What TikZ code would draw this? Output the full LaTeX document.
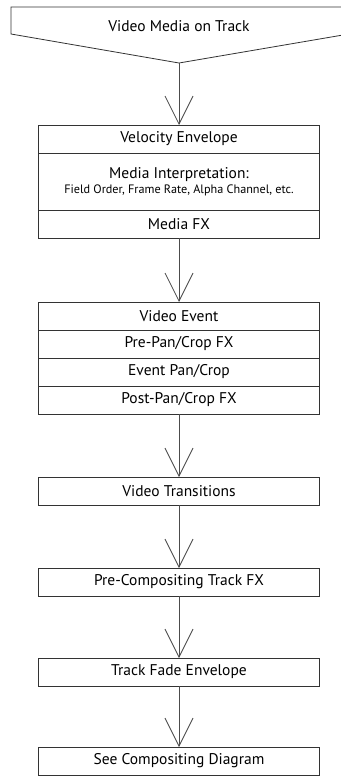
\documentclass[tikz,border=0pt]{standalone}
\usepackage{fontspec}
\setmainfont{PT Sans}
\usepackage{tikz}
\usetikzlibrary{arrows.meta, positioning}

\newcommand{\rowsize}{\fontsize{15.5}{16}\selectfont}
\newcommand{\notesize}{\fontsize{12.2}{13}\selectfont}

\begin{document}
\begin{tikzpicture}[
  x=1pt, y=-1pt,
  node distance=63pt,
  every node/.style={font=\rowsize},
  row/.style={rectangle, draw=black!80, line width=0.8pt, outer sep=0pt,
              minimum width=281pt, minimum height=28pt, inner sep=0pt, align=center},
  tall/.style={minimum height=57pt},
  arr/.style={-{Straight Barb[length=28pt, width=28pt, line width=0.8pt]},
              draw=black!70, line width=0.8pt},
]
  \useasboundingbox (0,0) rectangle (340,779);

  % source shape
  \draw[draw=black!80, line width=0.8pt] (11,7) -- (343,7) -- (343,35) -- (179,63) -- (11,34) -- cycle;
  \node (track) at (179,26) {Video Media on Track};
  \coordinate (tracktip) at (179,63);

  % media block
  \node[row, below=62pt of tracktip] (velocity) {Velocity Envelope};
  \node[row, tall, below=0pt of velocity] (interp)
        {Media Interpretation:\\[-1pt]{\notesize Field Order, Frame Rate, Alpha Channel, etc.}};
  \node[row, below=0pt of interp] (mediafx) {Media FX};

  % event block
  \node[row, below=64pt of mediafx] (event) {Video Event};
  \node[row, below=0pt of event]    (prepan)  {Pre-Pan/Crop FX};
  \node[row, below=0pt of prepan]   (pancrop) {Event Pan/Crop};
  \node[row, below=0pt of pancrop]  (postpan) {Post-Pan/Crop FX};

  % track chain
  \node[row, below=of postpan]      (trans)   {Video Transitions};
  \node[row, below=of trans]        (precomp) {Pre-Compositing Track FX};
  \node[row, below=62pt of precomp] (fade)    {Track Fade Envelope};
  \node[row, below=61pt of fade]    (compdiag) {See Compositing Diagram};

  % Arrows
  \draw[arr] (tracktip)      -- (velocity.north);
  \draw[arr] (mediafx.south) -- (event.north);
  \draw[arr] (postpan.south) -- (trans.north);
  \draw[arr] (trans.south)   -- (precomp.north);
  \draw[arr] (precomp.south) -- (fade.north);
  \draw[arr] (fade.south)    -- (compdiag.north);
\end{tikzpicture}
\end{document}
